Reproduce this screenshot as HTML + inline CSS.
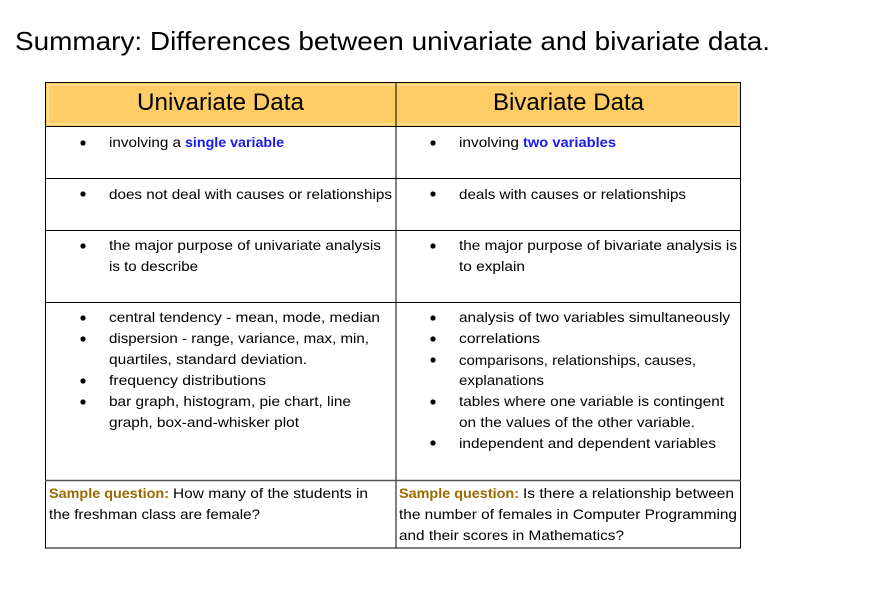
<!DOCTYPE html>
<html><head><meta charset="utf-8"><style>
html,body{margin:0;padding:0;background:#fff;width:893px;height:605px;overflow:hidden}
text{font-family:"Liberation Sans",Arial,sans-serif;font-size:14px;fill:#000}
.b{font-weight:bold;fill:#1a1aee}
.s{font-weight:bold;fill:#9c6a00}
</style></head><body>
<svg width="893" height="605" xmlns="http://www.w3.org/2000/svg">
<text x="15" y="50" font-size="26" textLength="755" lengthAdjust="spacingAndGlyphs" style="font-size:26px">Summary:  Differences between univariate and bivariate data.</text>
<g>
<rect x="45.5" y="82.5" width="695" height="44" fill="#ffcd66" stroke="#000"/>
<rect x="48" y="85" width="690" height="39" fill="none" stroke="#ffe7b0" stroke-width="1"/>
<rect x="45.5" y="82.5" width="695" height="465.5" fill="none" stroke="#000"/>
<line x1="396" y1="82" x2="396" y2="548" stroke="#000"/>
<line x1="45" y1="126.5" x2="741" y2="126.5" stroke="#000"/>
<line x1="45" y1="178.5" x2="741" y2="178.5" stroke="#000"/>
<line x1="45" y1="230.5" x2="741" y2="230.5" stroke="#000"/>
<line x1="45" y1="302.5" x2="741" y2="302.5" stroke="#000"/>
<line x1="45" y1="480.5" x2="741" y2="480.5" stroke="#555" stroke-width="1.5"/>
<text x="137" y="110" style="font-size:24px" textLength="167" lengthAdjust="spacingAndGlyphs">Univariate Data</text>
<text x="493" y="110" style="font-size:24px" textLength="151" lengthAdjust="spacingAndGlyphs">Bivariate Data</text>
<g fill="#000">
<circle cx="83" cy="143" r="2.6"/><circle cx="433" cy="143" r="2.6"/>
<circle cx="83" cy="194" r="2.6"/><circle cx="433" cy="194" r="2.6"/>
<circle cx="83" cy="246" r="2.6"/><circle cx="433" cy="246" r="2.6"/>
<circle cx="83" cy="318" r="2.6"/><circle cx="83" cy="339" r="2.6"/><circle cx="83" cy="381" r="2.6"/><circle cx="83" cy="402" r="2.6"/>
<circle cx="433" cy="318" r="2.6"/><circle cx="433" cy="339" r="2.6"/><circle cx="433" cy="360" r="2.6"/><circle cx="433" cy="402" r="2.6"/><circle cx="433" cy="443" r="2.6"/>
</g>
<g>
<text x="109" y="147" textLength="72" lengthAdjust="spacingAndGlyphs">involving a</text>
<text class="b" x="185" y="147" textLength="99" lengthAdjust="spacingAndGlyphs">single variable</text>
<text x="109" y="199" textLength="283" lengthAdjust="spacingAndGlyphs">does not deal with causes or relationships</text>
<text x="109" y="250" textLength="272" lengthAdjust="spacingAndGlyphs">the major purpose of univariate analysis</text>
<text x="109" y="271" textLength="89" lengthAdjust="spacingAndGlyphs">is to describe</text>
<text x="109" y="322" textLength="271" lengthAdjust="spacingAndGlyphs">central tendency - mean, mode, median</text>
<text x="109" y="343" textLength="260" lengthAdjust="spacingAndGlyphs">dispersion - range, variance, max, min,</text>
<text x="109" y="364" textLength="198" lengthAdjust="spacingAndGlyphs">quartiles, standard deviation.</text>
<text x="109" y="385" textLength="157" lengthAdjust="spacingAndGlyphs">frequency distributions</text>
<text x="109" y="406" textLength="242" lengthAdjust="spacingAndGlyphs">bar graph, histogram, pie chart, line</text>
<text x="109" y="427" textLength="190" lengthAdjust="spacingAndGlyphs">graph, box-and-whisker plot</text>
<text class="s" x="49" y="498" textLength="120" lengthAdjust="spacingAndGlyphs">Sample question:</text>
<text x="173" y="498" textLength="195" lengthAdjust="spacingAndGlyphs">How many of the students in</text>
<text x="49" y="519" textLength="211" lengthAdjust="spacingAndGlyphs">the freshman class are female?</text>
</g>
<g>
<text x="459" y="147" textLength="60" lengthAdjust="spacingAndGlyphs">involving</text>
<text class="b" x="523" y="147" textLength="93" lengthAdjust="spacingAndGlyphs">two variables</text>
<text x="459" y="199" textLength="227" lengthAdjust="spacingAndGlyphs">deals with causes or relationships</text>
<text x="459" y="250" textLength="278" lengthAdjust="spacingAndGlyphs">the major purpose of bivariate analysis is</text>
<text x="459" y="271" textLength="66" lengthAdjust="spacingAndGlyphs">to explain</text>
<text x="459" y="322" textLength="271" lengthAdjust="spacingAndGlyphs">analysis of two variables simultaneously</text>
<text x="459" y="343" textLength="81" lengthAdjust="spacingAndGlyphs">correlations</text>
<text x="459" y="365" textLength="237" lengthAdjust="spacingAndGlyphs">comparisons, relationships, causes,</text>
<text x="459" y="385" textLength="85" lengthAdjust="spacingAndGlyphs">explanations</text>
<text x="459" y="406" textLength="265" lengthAdjust="spacingAndGlyphs">tables where one variable is contingent</text>
<text x="459" y="427" textLength="236" lengthAdjust="spacingAndGlyphs">on the values of the other variable.</text>
<text x="459" y="448" textLength="257" lengthAdjust="spacingAndGlyphs">independent and dependent variables</text>
<text class="s" x="399" y="498" textLength="120" lengthAdjust="spacingAndGlyphs">Sample question:</text>
<text x="523" y="498" textLength="211" lengthAdjust="spacingAndGlyphs">Is there a relationship between</text>
<text x="399" y="519" textLength="338" lengthAdjust="spacingAndGlyphs">the number of females in Computer Programming</text>
<text x="399" y="540" textLength="225" lengthAdjust="spacingAndGlyphs">and their scores in Mathematics?</text>
</g>
</g>
</svg>
</body></html>
